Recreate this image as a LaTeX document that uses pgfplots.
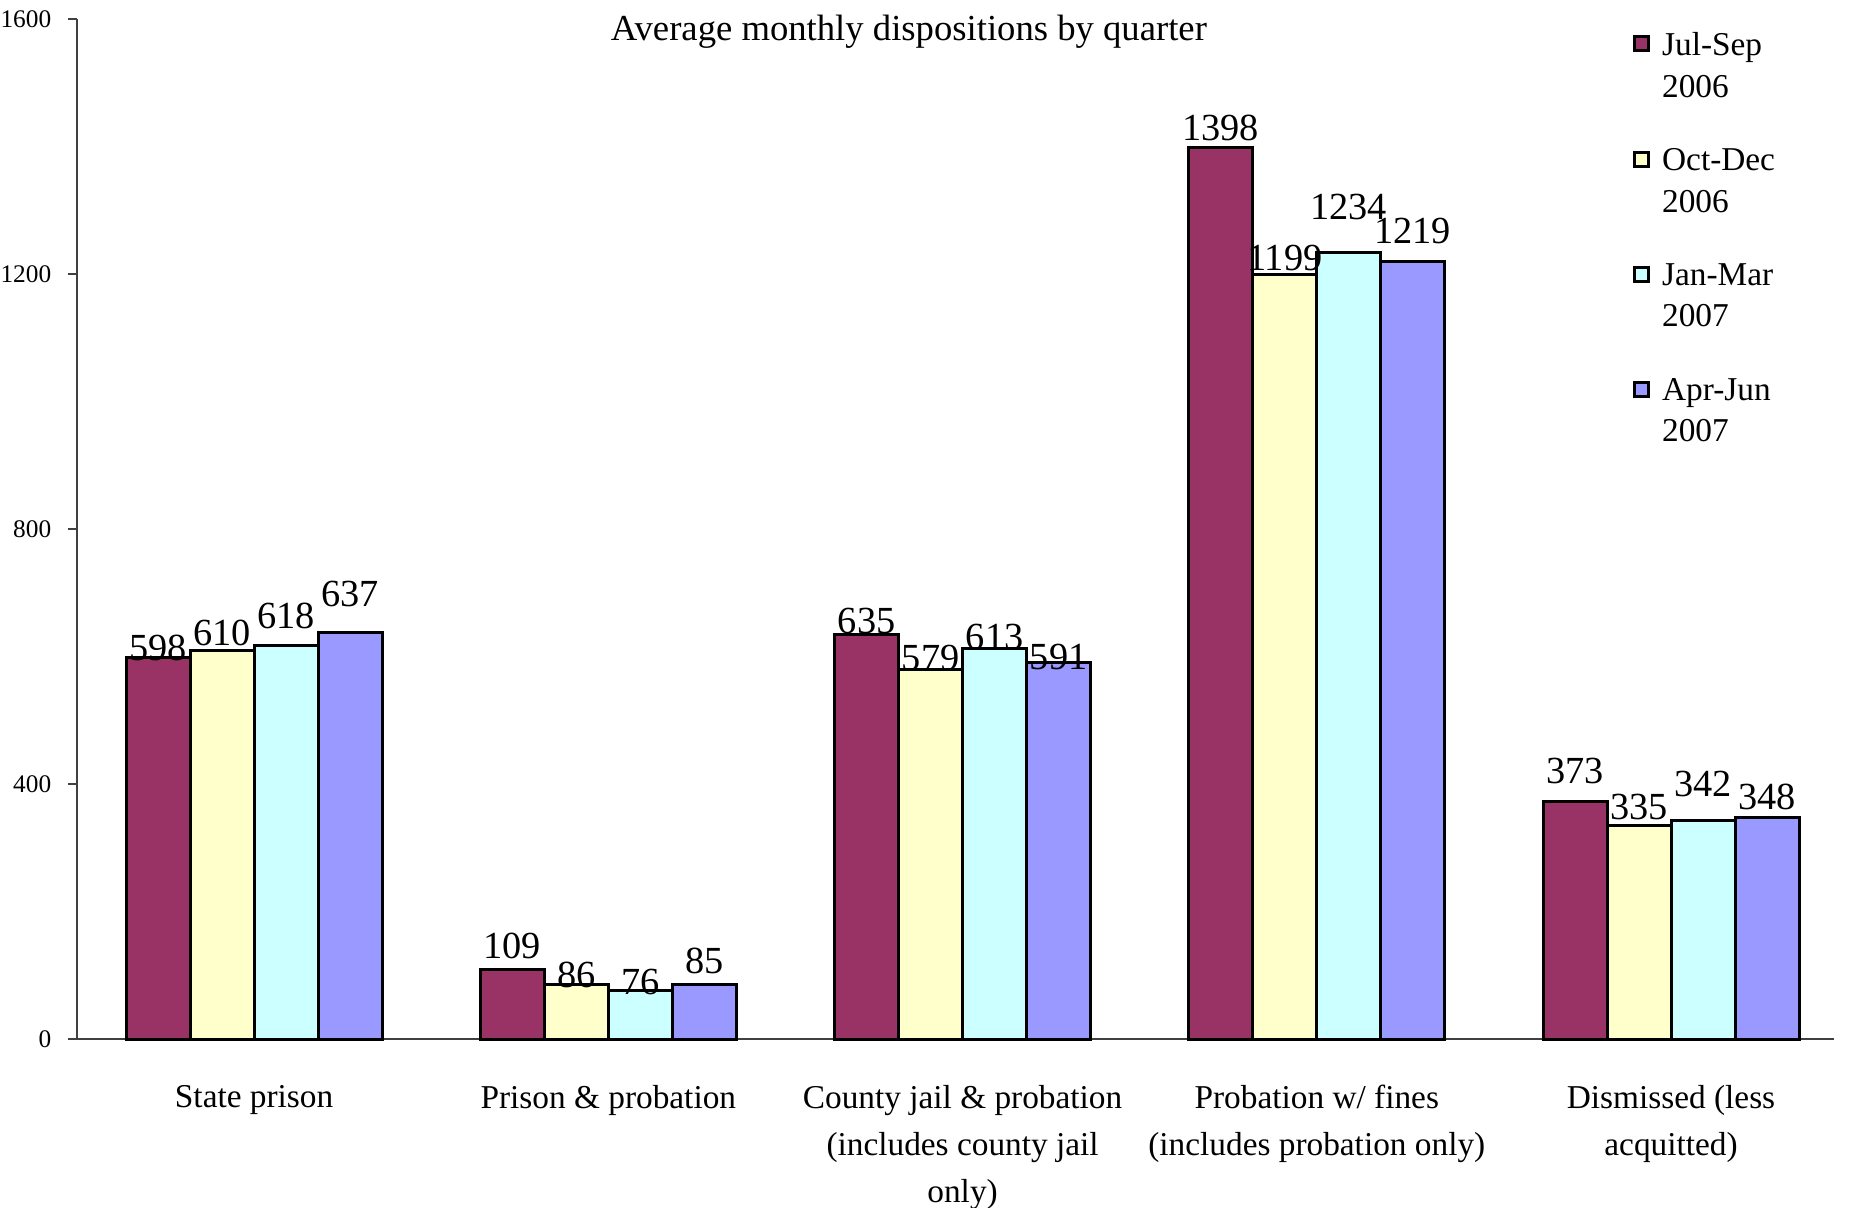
\documentclass[border=0pt]{standalone}
\usepackage{pgfplots}
\usepackage{pgfplotstable}
\pgfplotsset{compat=1.18}
\usepackage{fontspec}
\setmainfont{Liberation Serif}

\definecolor{qone}{HTML}{993366}
\definecolor{qtwo}{HTML}{FFFFCC}
\definecolor{qthree}{HTML}{CCFFFF}
\definecolor{qfour}{HTML}{9999FF}
\definecolor{axgray}{HTML}{404040}

% x = category index, y = value, dy = label lift (pt)
\pgfplotstableread{
x y dy
0 598 3.0
1 109 7.0
2 635 3.9
3 1398 6.1
4 373 9.0
}\julsep
\pgfplotstableread{
x y dy
0 610 5.3
1 86 2.7
2 579 3.7
3 1199 5.0
4 335 5.5
}\octdec
\pgfplotstableread{
x y dy
0 618 8.7
1 76 2.6
2 613 3.4
3 1234 13.7
4 342 11.2
}\janmar
\pgfplotstableread{
x y dy
0 637 11.6
1 85 7.1
2 591 1.5
3 1219 9.3
4 348 6.2
}\aprjun

\pgfplotsset{
  lbl/.style={
    nodes near coords,
    visualization depends on={\thisrow{dy}\as\dy},
    every node near coord/.append style={font=\fontsize{11.5}{13}\selectfont, anchor=center, yshift=\dy pt},
  },
}

\begin{document}
\begin{tikzpicture}
\begin{axis}[
    scale only axis,
    width=527.1pt, height=306pt,
    clip=false,
    ybar=0pt, bar width=19.2pt,
    xmin=-0.5, xmax=4.46, ymin=0, ymax=1600,
    axis x line=bottom, axis y line=left,
    axis line style={-, draw=axgray, line width=0.8pt},
    xtick={0,1,2,3,4},
    xtick style={draw=none},
    xticklabels={{State prison},{Prison \& probation},{County jail \& probation\\(includes county jail\\only)},{Probation w/ fines\\(includes probation only)},{Dismissed (less\\acquitted)}},
    xticklabel style={align=center, font=\fontsize{10}{14.1}\selectfont, yshift=-7.6pt},
    ytick={0,400,800,1200,1600},
    tick align=outside,
    major tick length=2.7pt,
    ytick style={draw=axgray, line width=0.8pt},
    yticklabel style={font=\fontsize{7.6}{9}\selectfont, xshift=-1.5pt},
    /pgf/number format/assume math mode=true,
    /pgf/number format/1000 sep={},
    area legend,
    legend image code/.code={\draw[#1, draw=black, line width=0.9pt] (0pt,5.0pt) rectangle (4.2pt,9.2pt);},
    legend style={draw=none, fill=none, at={(rel axis cs:0.8853,0.9873)}, anchor=north west,
        inner sep=0pt, row sep=14pt, column sep=3.6pt,
        font=\fontsize{10}{12.4}\selectfont,
        nodes={align=left, inner sep=0pt}},
    legend cell align=left,
]
\addplot[fill=qone, draw=black, line width=0.9pt, lbl] table[x=x, y=y] {\julsep};
\addplot[fill=qtwo, draw=black, line width=0.9pt, lbl] table[x=x, y=y] {\octdec};
\addplot[fill=qthree, draw=black, line width=0.9pt, lbl] table[x=x, y=y] {\janmar};
\addplot[fill=qfour, draw=black, line width=0.9pt, lbl] table[x=x, y=y] {\aprjun};
\legend{{Jul-Sep\\2006},{Oct-Dec\\2006},{Jan-Mar\\2007},{Apr-Jun\\2007}}
\node[anchor=base, font=\fontsize{11}{13}\selectfont] at (rel axis cs:0.4735,1) [yshift=-6.4pt] {Average monthly dispositions by quarter};
\end{axis}
\pgfresetboundingbox
\path ([xshift=-23.1pt,yshift=-50.4pt]current axis.south west) rectangle ([xshift=7.2pt,yshift=5.7pt]current axis.north east);
\end{tikzpicture}
\end{document}
